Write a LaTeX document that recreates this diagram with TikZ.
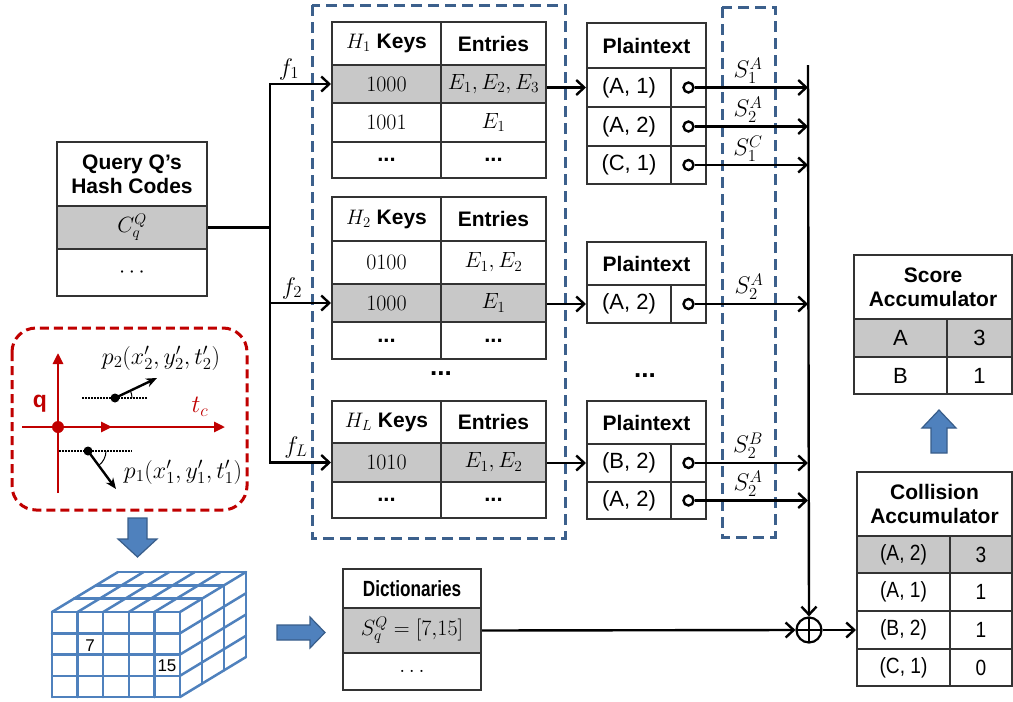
\RequirePackage{fix-cm}
\documentclass[tikz,border=0pt]{standalone}
\usepackage{fontspec}
\setmainfont{Liberation Sans}
\newfontfamily\narrowfont[FakeStretch=0.87]{Liberation Sans}
\newfontfamily\dictfont[FakeStretch=0.78]{Liberation Sans}
\usetikzlibrary{arrows.meta}
\definecolor{cellgray}{RGB}{200,200,200}
\definecolor{dashblue}{RGB}{60,96,140}
\definecolor{qred}{RGB}{192,0,0}
\definecolor{cubeblue}{RGB}{79,129,189}
\definecolor{arrowfill}{RGB}{79,129,189}
\definecolor{arrowdraw}{RGB}{56,93,138}
\newcommand\tcell[7]{\node[cell,#6,minimum width={#4-#2},minimum height={#5-#3}] (#1) at ({(#2+#4)/2},{(#3+#5)/2}) {#7};}
\begin{document}
\begin{tikzpicture}[x=1pt,y=-1pt,font=\fontsize{22}{26}\selectfont,
 cell/.style={draw=black!80, line width=2pt, inner sep=0pt},
 shade/.style={fill=cellgray},
 hdr/.style={font=\fontsize{21}{24}\selectfont\bfseries, align=center},
 arr/.style={line width=2.4pt, -{Straight Barb[length=8pt,width=15pt]}},
 ln/.style={line width=2.4pt},
 bluedash/.style={draw=dashblue, line width=3pt, dash pattern=on 11pt off 6pt},
 dot/.style={circle, draw, line width=2.4pt, fill=white, minimum size=10pt, inner sep=0pt},
 lbl/.style={inner sep=0pt, font=\fontsize{24}{27}\selectfont},
 block/.style={fill=arrowfill, draw=arrowdraw, line width=1.2pt}]
\useasboundingbox (0,0) rectangle (1013,702);

% dashed groups
\draw[bluedash] (312,5) rectangle (565,538);
\draw[bluedash] (722,7) rectangle (775,537);

% Query table
\tcell{q0}{57}{142}{207}{206}{hdr}{Query Q’s\\Hash Codes}
\tcell{q1}{57}{206}{207}{249}{shade}{$C_q^Q$}
\tcell{q2}{57}{249}{207}{296}{}{$\cdots$}

% H1 table
\tcell{h1k0}{332}{22}{441}{65}{hdr}{$H_1$ Keys}
\tcell{h1e0}{441}{22}{546}{65}{hdr}{Entries}
\tcell{h1k1}{332}{65}{441}{103}{shade}{$1000$}
\tcell{h1e1}{441}{65}{546}{103}{shade}{$E_1,E_2,E_3$}
\tcell{h1k2}{332}{103}{441}{142}{}{$1001$}
\tcell{h1e2}{441}{103}{546}{142}{}{$E_1$}
\tcell{h1k3}{332}{142}{441}{178}{}{\textbf{...}}
\tcell{h1e3}{441}{142}{546}{178}{}{\textbf{...}}

% H2 table
\tcell{h2k0}{332}{197}{441}{241}{hdr}{$H_2$ Keys}
\tcell{h2e0}{441}{197}{546}{241}{hdr}{Entries}
\tcell{h2k1}{332}{241}{441}{284}{}{$0100$}
\tcell{h2e1}{441}{241}{546}{284}{}{$E_1,E_2$}
\tcell{h2k2}{332}{284}{441}{322}{shade}{$1000$}
\tcell{h2e2}{441}{284}{546}{322}{shade}{$E_1$}
\tcell{h2k3}{332}{322}{441}{359}{}{\textbf{...}}
\tcell{h2e3}{441}{322}{546}{359}{}{\textbf{...}}

% HL table
\tcell{hLk0}{332}{401}{441}{443}{hdr}{$H_L$ Keys}
\tcell{hLe0}{441}{401}{546}{443}{hdr}{Entries}
\tcell{hLk1}{332}{443}{441}{482}{shade}{$1010$}
\tcell{hLe1}{441}{443}{546}{482}{shade}{$E_1,E_2$}
\tcell{hLk2}{332}{482}{441}{518}{}{\textbf{...}}
\tcell{hLe2}{441}{482}{546}{518}{}{\textbf{...}}

\node[font=\fontsize{26}{28}\selectfont\bfseries] (vd1) at (441,374) {...};
\node[font=\fontsize{26}{28}\selectfont\bfseries] (vd2) at (645,376) {...};

% Plaintext 1
\tcell{p10}{587}{23}{706}{68}{hdr}{Plaintext}
\tcell{p1a1}{587}{68}{671}{107}{}{(A, 1)}
\tcell{p1b1}{671}{68}{706}{107}{}{}
\tcell{p1a2}{587}{107}{671}{146}{}{(A, 2)}
\tcell{p1b2}{671}{107}{706}{146}{}{}
\tcell{p1a3}{587}{146}{671}{184}{}{(C, 1)}
\tcell{p1b3}{671}{146}{706}{184}{}{}
% Plaintext 2
\tcell{p20}{587}{242}{706}{285}{hdr}{Plaintext}
\tcell{p2a1}{587}{285}{671}{323}{}{(A, 2)}
\tcell{p2b1}{671}{285}{706}{323}{}{}
% Plaintext 3
\tcell{p30}{587}{401}{706}{444}{hdr}{Plaintext}
\tcell{p3a1}{587}{444}{671}{482}{}{(B, 2)}
\tcell{p3b1}{671}{444}{706}{482}{}{}
\tcell{p3a2}{587}{482}{671}{519}{}{(A, 2)}
\tcell{p3b2}{671}{482}{706}{519}{}{}

% Score accumulator
\tcell{sa0}{854}{255}{1012}{319}{hdr}{Score\\Accumulator}
\tcell{sa1}{854}{319}{947}{357}{shade}{A}
\tcell{sb1}{947}{319}{1012}{357}{shade}{3}
\tcell{sa2}{854}{357}{947}{394}{}{B}
\tcell{sb2}{947}{357}{1012}{394}{}{1}

% Collision accumulator
\tcell{ca0}{857}{472}{1012}{536}{hdr}{Collision\\Accumulator}
\tcell{ca1}{857}{536}{950}{573}{shade}{\narrowfont (A, 2)}
\tcell{cb1}{950}{536}{1012}{573}{shade}{\narrowfont 3}
\tcell{ca2}{857}{573}{950}{611}{}{\narrowfont (A, 1)}
\tcell{cb2}{950}{573}{1012}{611}{}{\narrowfont 1}
\tcell{ca3}{857}{611}{950}{649}{}{\narrowfont (B, 2)}
\tcell{cb3}{950}{611}{1012}{649}{}{\narrowfont 1}
\tcell{ca4}{857}{649}{950}{686}{}{\narrowfont (C, 1)}
\tcell{cb4}{950}{649}{1012}{686}{}{\narrowfont 0}

% Dictionaries
\tcell{d0}{343}{569}{481}{608}{}{\dictfont\bfseries Dictionaries}
\tcell{d1}{343}{608}{481}{653}{shade}{$S_q^Q=[7{,}15]$}
\tcell{d2}{343}{653}{481}{690}{}{$\dots$}

% hash function arrows
\coordinate (split) at (270,227.5);
\draw[ln] (q1.east) -- (split);
\draw[arr] (split) |- (h1k1.west);
\draw[arr] (split) |- (h2k2.west);
\draw[arr] (split) |- (hLk1.west);
\node[lbl, anchor=south] (f1) at (289,80) {$f_1$};
\node[lbl, anchor=south] (f2) at (292,299) {$f_2$};
\node[lbl, anchor=south] (fL) at (296,458) {$f_L$};

% table -> plaintext
\draw[arr] (h1e1.east |- p1a1.west) -- (p1a1.west);
\draw[arr] (h2e2.east |- p2a1.west) -- (p2a1.west);
\draw[arr] (hLe1.east |- p3a1.west) -- (p3a1.west);

% pointers
\coordinate (bus) at (808,65);
\node[dot] (o11) at (p1b1) {};
\node[dot] (o12) at (p1b2) {};
\node[dot] (o13) at (p1b3) {};
\node[dot] (o21) at (p2b1) {};
\node[dot] (o31) at (p3b1) {};
\node[dot] (o32) at (p3b2) {};
\draw[arr] (o11.east) -- (o11 -| bus);
\draw[arr] (o12.east) -- (o12 -| bus);
\draw[arr] (o13.east) -- (o13 -| bus);
\draw[arr] (o21.east) -- (o21 -| bus);
\draw[arr] (o31.east) -- (o31 -| bus);
\draw[arr] (o32.east) -- (o32 -| bus);
\node[lbl, anchor=south] (s11) at (748,84) {$S_1^A$};
\node[lbl, anchor=south] (s12) at (748,123) {$S_2^A$};
\node[lbl, anchor=south] (s13) at (748,162) {$S_1^C$};
\node[lbl, anchor=south] (s21) at (749,300) {$S_2^A$};
\node[lbl, anchor=south] (s31) at (748,459) {$S_2^B$};
\node[lbl, anchor=south] (s32) at (748,497) {$S_2^A$};

% combiner
\node[circle, draw, line width=2.2pt, minimum size=25pt, inner sep=0pt,
  path picture={\draw[line width=2.2pt] (path picture bounding box.north) -- (path picture bounding box.south)
  (path picture bounding box.west) -- (path picture bounding box.east);}] (oplus) at (809,630) {};
\draw[arr] (bus) -- (oplus.north);
\draw[arr] (d1.east) -- (oplus.west);
\draw[arr] (oplus.east) -- (ca3.west);

% block arrows
\filldraw[block] (128,518) -- (147,518) -- (147,539) -- (157,539) -- (137.5,557) -- (118,539) -- (128,539) -- cycle;
\filldraw[block] (277,625) -- (310,625) -- (310,617) -- (325,632.5) -- (310,648) -- (310,640) -- (277,640) -- cycle;
\filldraw[block] (931,453) -- (931,428) -- (922,428) -- (939,410) -- (956,428) -- (947,428) -- (947,453) -- cycle;

% red query sketch
\draw[qred, line width=3pt, dash pattern=on 9pt off 5pt, rounded corners=24pt] (12,328) rectangle (247,510);
\draw[qred, line width=2.6pt, -{Triangle[length=11pt,width=10pt]}] (58,493) -- (58,353);
\draw[qred, line width=2.6pt, -{Triangle[length=11pt,width=10pt]}] (22,427) -- (225,427);
\draw[qred, line width=2.6pt, -{Triangle[length=11pt,width=10pt]}] (22,427) -- (112,427);
\fill[qred] (58,427) circle (6pt);
\node[qred, font=\fontsize{23}{25}\selectfont\bfseries] (qlab) at (40,404) {q};
\node[qred, font=\fontsize{25}{28}\selectfont] (tclab) at (200,407) {$t_c$};
\draw[line width=1.5pt, dash pattern=on 1.5pt off 1.5pt] (82,398) -- (148,398);
\fill (115,398) circle (4.5pt);
\draw[line width=2.4pt, -{Stealth[length=11pt,width=9pt]}] (115,398) -- (157,378);
\draw[line width=1pt] (132,398) arc[start angle=0, end angle=25, radius=17pt];
\draw[line width=1.5pt, dash pattern=on 1.5pt off 1.5pt] (59,451) -- (132,451);
\fill (88,451) circle (4.5pt);
\draw[line width=2.4pt, -{Stealth[length=11pt,width=9pt]}] (88,451) -- (116,489);
\draw[line width=1pt] (106,451) arc[start angle=0, end angle=-53, radius=18pt];
\node[font=\fontsize{24}{27}\selectfont] (p2lab) at (161,358) {$p_2(x_2',y_2',t_2')$};
\node[font=\fontsize{24}{27}\selectfont] (p1lab) at (183,472) {$p_1(x_1',y_1',t_1')$};

% cube
\begin{scope}[draw=cubeblue, line width=2.5pt, line join=round, line cap=round]
 \fill[white] (52,612) -- (118,572) -- (246,572) -- (246,657) -- (180,697) -- (52,697) -- cycle;
 \foreach \i in {0,...,5} \draw ({52+25.6*\i},612) -- ({52+25.6*\i},697);
 \foreach \j in {0,...,4} \draw (52,{612+21.25*\j}) -- (180,{612+21.25*\j});
 \foreach \i in {0,...,5} \draw ({52+25.6*\i},612) -- ({118+25.6*\i},572);
 \foreach \k in {1,2,3} \draw ({52+22*\k},{612-13.333*\k}) -- ({180+22*\k},{612-13.333*\k});
 \foreach \k in {1,2,3} \draw ({180+22*\k},{612-13.333*\k}) -- ({180+22*\k},{697-13.333*\k});
 \foreach \j in {1,...,4} \draw (180,{612+21.25*\j}) -- (246,{572+21.25*\j});
\end{scope}
\node[font=\fontsize{17}{20}\selectfont] (n7) at (90,646) {7};
\node[font=\fontsize{17}{20}\selectfont] (n15) at (167,666) {15};
\end{tikzpicture}
\end{document}
